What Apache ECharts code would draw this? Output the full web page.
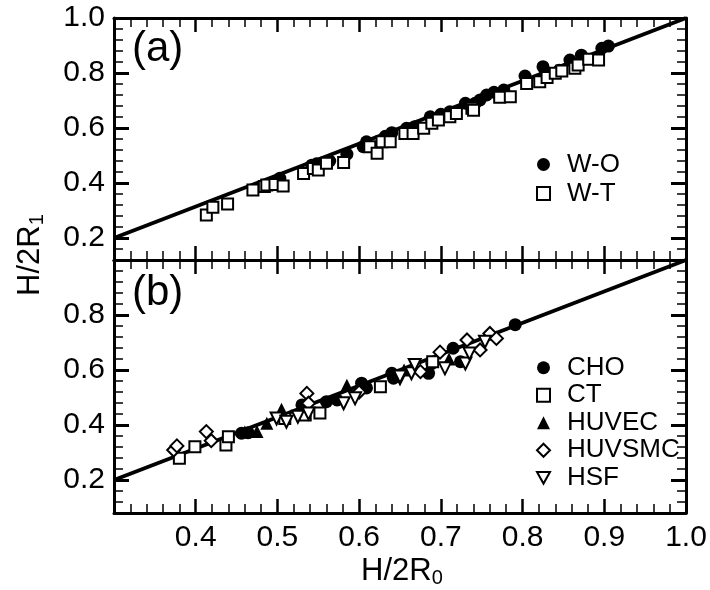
<!DOCTYPE html>
<html>
<head>
<meta charset="utf-8">
<script src="https://cdn.jsdelivr.net/npm/echarts@6/dist/echarts.min.js"></script>
<style>
  html, body { margin: 0; padding: 0; background: #fff; }
  #chart { width: 710px; height: 590px; }
</style>
</head>
<body>
<div id="chart"></div>
<script>
// panel (a)
var woData = [[0.503, 0.417], [0.542, 0.465], [0.548, 0.470], [0.564, 0.480], [0.585, 0.505], [0.605, 0.532],
  [0.609, 0.550], [0.632, 0.570], [0.640, 0.583], [0.658, 0.599], [0.668, 0.605], [0.687, 0.641], [0.700, 0.650],
  [0.711, 0.659], [0.730, 0.690], [0.742, 0.690], [0.748, 0.702], [0.756, 0.720], [0.765, 0.730], [0.777, 0.738],
  [0.803, 0.789], [0.825, 0.823], [0.827, 0.790], [0.845, 0.810], [0.858, 0.847], [0.872, 0.865], [0.897, 0.890],
  [0.905, 0.898]]
var wtData = [[0.413, 0.284], [0.421, 0.312], [0.439, 0.324], [0.470, 0.375], [0.484, 0.387], [0.487, 0.393],
  [0.497, 0.395], [0.507, 0.389], [0.532, 0.435], [0.544, 0.453], [0.550, 0.447], [0.560, 0.472], [0.581, 0.475],
  [0.613, 0.532], [0.622, 0.508], [0.628, 0.550], [0.638, 0.550], [0.656, 0.580], [0.666, 0.580], [0.679, 0.599],
  [0.689, 0.617], [0.697, 0.629], [0.711, 0.641], [0.719, 0.653], [0.738, 0.672], [0.740, 0.665], [0.772, 0.712],
  [0.785, 0.714], [0.805, 0.762], [0.821, 0.768], [0.830, 0.784], [0.840, 0.799], [0.848, 0.807], [0.864, 0.817],
  [0.868, 0.829], [0.881, 0.850], [0.893, 0.847]]

// panel (b)
var choData = [[0.456, 0.370], [0.464, 0.372], [0.530, 0.473], [0.560, 0.485], [0.573, 0.491], [0.603, 0.552],
  [0.609, 0.535], [0.640, 0.588], [0.642, 0.570], [0.685, 0.588], [0.689, 0.624], [0.715, 0.679], [0.724, 0.630],
  [0.791, 0.765]]
var ctData = [[0.380, 0.279], [0.399, 0.321], [0.437, 0.327], [0.440, 0.357], [0.509, 0.424], [0.534, 0.436],
  [0.552, 0.444], [0.626, 0.539], [0.690, 0.630]]
var huvecData = [[0.460, 0.375], [0.475, 0.376], [0.487, 0.406], [0.505, 0.457], [0.585, 0.545], [0.655, 0.600],
  [0.710, 0.640]]
var huvsmcData = [[0.373, 0.309], [0.377, 0.324], [0.413, 0.376], [0.419, 0.343], [0.536, 0.515], [0.538, 0.479],
  [0.600, 0.520], [0.675, 0.594], [0.699, 0.665], [0.732, 0.709], [0.748, 0.673], [0.760, 0.733], [0.768, 0.715]]
var hsfData = [[0.499, 0.424], [0.511, 0.412], [0.525, 0.430], [0.538, 0.442], [0.581, 0.479], [0.595, 0.497],
  [0.650, 0.570], [0.650, 0.576], [0.664, 0.588], [0.668, 0.618], [0.705, 0.606], [0.730, 0.624], [0.735, 0.660],
  [0.754, 0.703]]

var fitLine = [[0.3, 0.2], [1.0, 1.0]]

var FONT = 'Liberation Sans, Arial, Helvetica, sans-serif'
var BLACK = '#000'
var DOWN_TRIANGLE = 'path://M0,0L10,0L5,9Z'

function xAxisFor(grid, pos, labels) {
  return {
    type: 'value', gridIndex: grid, position: pos, min: 0.3, max: 1.0, interval: 0.1,
    axisLine: { show: true, onZero: false, lineStyle: { color: BLACK, width: 3 } },
    axisTick: { show: true, inside: true, length: 14, lineStyle: { color: BLACK, width: 2.5 } },
    minorTick: { show: true, splitNumber: 5, length: 9, lineStyle: { color: BLACK, width: 1.5 } },
    splitLine: { show: false },
    axisLabel: {
      show: labels, color: BLACK, fontSize: 30, fontFamily: FONT, margin: 10,
      formatter: function (v) { return v < 0.35 ? '' : v.toFixed(1) }
    }
  }
}

// short ticks every 0.04
function yMinorAxis(grid, pos, min) {
  return {
    type: 'value', gridIndex: grid, position: pos, min: min, max: 1.0, interval: 0.04,
    axisLine: { show: true, onZero: false, lineStyle: { color: BLACK, width: 3 } },
    axisTick: { show: true, inside: true, length: 9, lineStyle: { color: BLACK, width: 1.5 } },
    axisLabel: { show: false },
    splitLine: { show: false }
  }
}

// long ticks + labels every 0.2 (own grid so min stays a multiple of the interval)
function yMajorAxis(grid, pos, labels, hideTop) {
  return {
    type: 'value', gridIndex: grid, position: pos, min: 0.2, max: 1.0, interval: 0.2,
    axisLine: { show: false },
    axisTick: { show: true, inside: true, length: 15, lineStyle: { color: BLACK, width: 3 } },
    axisLabel: {
      show: labels, color: BLACK, fontSize: 30, fontFamily: FONT, margin: 9,
      formatter: function (v) { return hideTop && v > 0.99 ? '' : v.toFixed(1) }
    },
    splitLine: { show: false }
  }
}

function scatter(name, data, xi, yi, symbol, size, filled) {
  return {
    name: name, type: 'scatter', xAxisIndex: xi, yAxisIndex: yi, data: data,
    symbol: symbol, symbolSize: size, z: 3,
    itemStyle: filled
      ? { color: BLACK, borderColor: BLACK, borderWidth: 0, opacity: 1 }
      : { color: '#fff', borderColor: BLACK, borderWidth: 2, opacity: 1 }
  }
}

function fit(xi, yi) {
  return {
    type: 'line', xAxisIndex: xi, yAxisIndex: yi, data: fitLine, symbol: 'none', silent: true, z: 2,
    lineStyle: { color: BLACK, width: 4 }
  }
}

var top1 = 18, sep = 260, bottom1 = 513, left1 = 114, width1 = 572
var unit = 275

var legendText = { fontSize: 26, fontFamily: FONT, color: BLACK, padding: [0, 0, 0, 12] }

var option = {
  animation: false,
  backgroundColor: '#fff',
  grid: [
    { left: left1, top: top1, width: width1, height: sep - top1 },
    { left: left1, top: sep, width: width1, height: bottom1 - sep },
    { left: left1, top: top1, width: width1, height: 0.8 * unit },
    { left: left1, top: sep, width: width1, height: 0.8 * unit }
  ],
  xAxis: [
    xAxisFor(0, 'bottom', false),
    xAxisFor(0, 'top', false),
    xAxisFor(1, 'bottom', true),
    xAxisFor(1, 'top', false),
    { type: 'value', gridIndex: 2, min: 0.3, max: 1.0, show: false },
    { type: 'value', gridIndex: 3, min: 0.3, max: 1.0, show: false }
  ],
  yAxis: [
    yMinorAxis(0, 'left', 0.12),
    yMinorAxis(0, 'right', 0.12),
    yMinorAxis(1, 'left', 0.08),
    yMinorAxis(1, 'right', 0.08),
    yMajorAxis(2, 'left', true, false),
    yMajorAxis(2, 'right', false, false),
    yMajorAxis(3, 'left', true, true),
    yMajorAxis(3, 'right', false, true)
  ],
  legend: [
    {
      data: ['W-O', 'W-T'], orient: 'vertical', left: 531, top: 145, itemWidth: 13, itemHeight: 13,
      itemGap: 0, selectedMode: false, textStyle: Object.assign({ lineHeight: 29 }, legendText)
    },
    {
      data: ['CHO', 'CT', 'HUVEC', 'HUVSMC', 'HSF'], orient: 'vertical', left: 531, top: 349,
      itemWidth: 13, itemHeight: 13, itemGap: 0, selectedMode: false,
      textStyle: Object.assign({ lineHeight: 27.5 }, legendText)
    }
  ],
  graphic: [
    { type: 'text', left: 132, top: 28, style: { text: '(a)', fontSize: 42, fontFamily: FONT, fill: BLACK } },
    { type: 'text', left: 132, top: 272, style: { text: '(b)', fontSize: 42, fontFamily: FONT, fill: BLACK } },
    {
      type: 'text', x: 402, y: 571,
      style: {
        text: '{m|H/2R}{s|0}', align: 'center', verticalAlign: 'middle', fill: BLACK,
        rich: {
          m: { fontSize: 31, fontFamily: FONT, lineHeight: 31, verticalAlign: 'top' },
          s: { fontSize: 20, fontFamily: FONT, lineHeight: 20, padding: [13, 0, 0, 0], verticalAlign: 'top' }
        }
      }
    },
    {
      type: 'text', x: 30, y: 255, rotation: Math.PI / 2,
      style: {
        text: '{m|H/2R}{s|1}', align: 'center', verticalAlign: 'middle', fill: BLACK,
        rich: {
          m: { fontSize: 31, fontFamily: FONT, lineHeight: 31, verticalAlign: 'top' },
          s: { fontSize: 20, fontFamily: FONT, lineHeight: 20, padding: [13, 0, 0, 0], verticalAlign: 'top' }
        }
      }
    }
  ],
  series: [
    fit(0, 0),
    scatter('W-O', woData, 0, 0, 'circle', 13, true),
    scatter('W-T', wtData, 0, 0, 'rect', 11, false),
    fit(2, 2),
    scatter('CHO', choData, 2, 2, 'circle', 13, true),
    scatter('CT', ctData, 2, 2, 'rect', 11, false),
    scatter('HUVEC', huvecData, 2, 2, 'triangle', 13, true),
    scatter('HUVSMC', huvsmcData, 2, 2, 'diamond', 13, false),
    scatter('HSF', hsfData, 2, 2, DOWN_TRIANGLE, 12, false)
  ]
}

var chart = echarts.init(document.getElementById('chart'), null, { renderer: 'canvas' })
chart.setOption(option)
</script>
</body>
</html>
